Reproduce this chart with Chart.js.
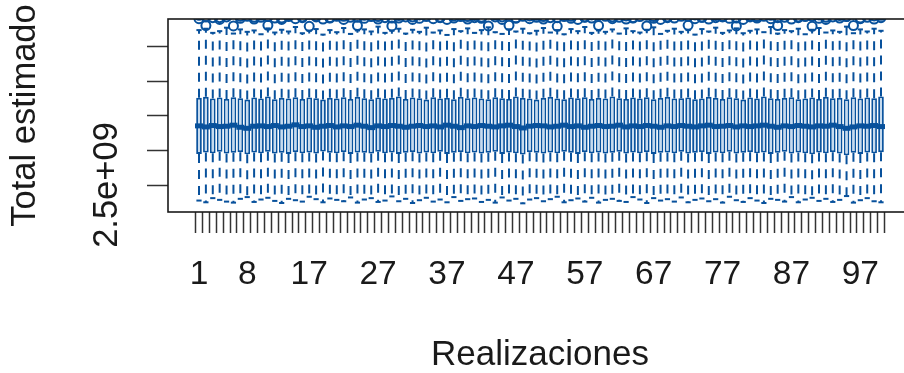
<!DOCTYPE html>
<html>
<head>
<meta charset="utf-8">
<script src="https://cdn.jsdelivr.net/npm/chart.js@4.4.1/dist/chart.umd.min.js"></script>
<style>
  html, body { margin: 0; padding: 0; background: #fff; overflow: hidden; }
  #wrap { width: 904px; height: 373px; overflow: hidden; }
</style>
</head>
<body>
<div id="wrap"><canvas id="chart" width="912" height="373"></canvas></div>
<script>
// values are in units of 1e9
var UNIT = 1e9;

// realizaciones 1..100
var realizaciones = Array.from({ length: 100 }, function (_, i) { return i + 1; });
var xTickLabels = [1, 8, 17, 27, 37, 47, 57, 67, 77, 87, 97];

var yTicks = [2.5, 2.6, 2.7, 2.8, 2.9];
var yTickText = ['2.5e+09', '', '', '', ''];

var q3 = [
  2.752, 2.755, 2.750, 2.753, 2.749, 2.754, 2.751, 2.747, 2.753, 2.750,
  2.756, 2.748, 2.752, 2.750, 2.754, 2.749, 2.753, 2.751, 2.747, 2.752,
  2.750, 2.754, 2.749, 2.755, 2.751, 2.748, 2.753, 2.750, 2.752, 2.756,
  2.749, 2.753, 2.751, 2.747, 2.754, 2.750, 2.752, 2.748, 2.755, 2.751,
  2.753, 2.750, 2.748, 2.754, 2.751, 2.749, 2.756, 2.752, 2.750, 2.747,
  2.752, 2.755, 2.750, 2.748, 2.753, 2.751, 2.754, 2.749, 2.752, 2.750,
  2.756, 2.751, 2.749, 2.753, 2.750, 2.754, 2.748, 2.752, 2.755, 2.750,
  2.751, 2.753, 2.748, 2.750, 2.755, 2.752, 2.749, 2.754, 2.751, 2.747,
  2.753, 2.750, 2.756, 2.751, 2.749, 2.752, 2.754, 2.748, 2.750, 2.753,
  2.749, 2.755, 2.751, 2.752, 2.748, 2.754, 2.750, 2.753, 2.751, 2.756
];

var median = [
  2.671, 2.668, 2.672, 2.669, 2.670, 2.673, 2.667, 2.664, 2.670, 2.671,
  2.669, 2.672, 2.668, 2.670, 2.674, 2.669, 2.671, 2.667, 2.670, 2.672,
  2.668, 2.671, 2.669, 2.673, 2.670, 2.666, 2.671, 2.669, 2.672, 2.670,
  2.667, 2.670, 2.672, 2.669, 2.671, 2.668, 2.673, 2.670, 2.666, 2.671,
  2.669, 2.672, 2.670, 2.668, 2.671, 2.673, 2.669, 2.665, 2.670, 2.672,
  2.671, 2.668, 2.670, 2.673, 2.669, 2.671, 2.667, 2.670, 2.672, 2.669,
  2.670, 2.673, 2.668, 2.671, 2.669, 2.672, 2.670, 2.667, 2.671, 2.669,
  2.672, 2.670, 2.668, 2.671, 2.673, 2.669, 2.670, 2.672, 2.668, 2.671,
  2.669, 2.671, 2.673, 2.670, 2.667, 2.671, 2.669, 2.672, 2.670, 2.668,
  2.671, 2.670, 2.673, 2.669, 2.664, 2.668, 2.671, 2.670, 2.672, 2.669
];

var q1 = [
  2.590, 2.594, 2.592, 2.596, 2.591, 2.593, 2.595, 2.589, 2.594, 2.592,
  2.596, 2.591, 2.593, 2.590, 2.595, 2.592, 2.594, 2.591, 2.597, 2.593,
  2.592, 2.595, 2.590, 2.594, 2.593, 2.591, 2.596, 2.592, 2.594, 2.590,
  2.593, 2.595, 2.591, 2.594, 2.592, 2.596, 2.590, 2.593, 2.595, 2.592,
  2.594, 2.591, 2.593, 2.596, 2.590, 2.594, 2.592, 2.588, 2.595, 2.593,
  2.591, 2.594, 2.592, 2.596, 2.593, 2.590, 2.595, 2.592, 2.594, 2.591,
  2.593, 2.596, 2.591, 2.594, 2.592, 2.595, 2.590, 2.593, 2.594, 2.592,
  2.596, 2.591, 2.593, 2.595, 2.590, 2.594, 2.592, 2.596, 2.591, 2.593,
  2.595, 2.592, 2.594, 2.590, 2.593, 2.596, 2.591, 2.594, 2.592, 2.589,
  2.594, 2.592, 2.595, 2.591, 2.586, 2.593, 2.590, 2.594, 2.592, 2.595
];

var whiskerLow = [
  2.455, 2.450, 2.462, 2.457, 2.452, 2.449, 2.460, 2.465, 2.451, 2.458,
  2.463, 2.454, 2.448, 2.460, 2.456, 2.452, 2.466, 2.459, 2.450, 2.461,
  2.457, 2.453, 2.464, 2.449, 2.458, 2.462, 2.451, 2.455, 2.467, 2.453,
  2.460, 2.448, 2.456, 2.463, 2.452, 2.458, 2.450, 2.465, 2.454, 2.459,
  2.461, 2.451, 2.457, 2.449, 2.464, 2.455, 2.460, 2.447, 2.458, 2.462,
  2.453, 2.459, 2.466, 2.450, 2.456, 2.461, 2.452, 2.463, 2.449, 2.457,
  2.460, 2.454, 2.451, 2.465, 2.458, 2.448, 2.462, 2.455, 2.459, 2.452,
  2.464, 2.450, 2.457, 2.461, 2.453, 2.459, 2.449, 2.466, 2.456, 2.451,
  2.462, 2.455, 2.448, 2.460, 2.457, 2.452, 2.465, 2.450, 2.458, 2.463,
  2.454, 2.460, 2.451, 2.457, 2.468, 2.449, 2.456, 2.462, 2.453, 2.450
];

var whiskerHigh = [
  2.948, 2.952, 2.940, 2.945, 2.955, 2.938, 2.950, 2.943, 2.947, 2.936,
  2.953, 2.941, 2.949, 2.944, 2.957, 2.939, 2.946, 2.951, 2.935, 2.948,
  2.942, 2.954, 2.937, 2.947, 2.950, 2.944, 2.958, 2.940, 2.946, 2.952,
  2.938, 2.949, 2.943, 2.955, 2.941, 2.947, 2.934, 2.951, 2.945, 2.953,
  2.940, 2.948, 2.956, 2.942, 2.937, 2.950, 2.944, 2.952, 2.939, 2.946,
  2.954, 2.941, 2.948, 2.936, 2.951, 2.945, 2.957, 2.940, 2.947, 2.943,
  2.950, 2.938, 2.953, 2.945, 2.941, 2.949, 2.956, 2.937, 2.946, 2.952,
  2.943, 2.948, 2.935, 2.951, 2.944, 2.955, 2.940, 2.947, 2.953, 2.939,
  2.946, 2.950, 2.942, 2.957, 2.938, 2.948, 2.945, 2.952, 2.936, 2.949,
  2.954, 2.941, 2.947, 2.943, 2.958, 2.939, 2.950, 2.944, 2.952, 2.946
];

// outliers above the upper whisker (most sit at or beyond the top of the plot)
var outlierA = [
  2.981, 2.961, 2.984, 2.979, 2.986, 2.960, 2.982, 2.988, 2.980, 2.985,
  2.962, 2.983, 2.979, 2.987, 2.981, 2.984, 2.959, 2.986, 2.980, 2.983,
  2.988, 2.979, 2.985, 2.961, 2.982, 2.987, 2.980, 2.984, 2.960, 2.983,
  2.986, 2.979, 2.982, 2.988, 2.981, 2.985, 2.979, 2.983, 2.987, 2.980,
  2.984, 2.982, 2.960, 2.986, 2.979, 2.962, 2.983, 2.988, 2.981, 2.985,
  2.980, 2.984, 2.959, 2.987, 2.982, 2.979, 2.986, 2.983, 2.961, 2.988,
  2.981, 2.985, 2.980, 2.984, 2.987, 2.960, 2.982, 2.979, 2.986, 2.983,
  2.988, 2.962, 2.981, 2.985, 2.980, 2.984, 2.987, 2.982, 2.960, 2.979,
  2.986, 2.983, 2.988, 2.981, 2.961, 2.985, 2.980, 2.984, 2.987, 2.959,
  2.982, 2.979, 2.986, 2.983, 2.988, 2.961, 2.981, 2.985, 2.980, 2.984
];
var outlierB = [
  2.991, 2.986, 2.997, 2.984, 2.993, 2.999, 2.988, 2.995, 2.985, 2.992,
  2.987, 2.996, 2.983, 2.990, 2.998, 2.986, 2.994, 2.989, 2.997, 2.984,
  2.993, 2.988, 2.999, 2.985, 2.991, 2.996, 2.987, 2.994, 2.983, 2.990,
  2.997, 2.986, 2.992, 2.988, 2.999, 2.984, 2.995, 2.989, 2.993, 2.987,
  2.990, 2.985, 2.998, 2.992, 2.986, 2.994, 2.983, 2.996, 2.989, 2.991,
  2.987, 2.997, 2.984, 2.993, 2.988, 2.999, 2.985, 2.992, 2.990, 2.995,
  2.986, 2.994, 2.989, 2.983, 2.997, 2.991, 2.987, 2.996, 2.984, 2.993,
  2.998, 2.988, 2.992, 2.985, 2.995, 2.990, 2.986, 2.999, 2.983, 2.994,
  2.989, 2.987, 2.996, 2.991, 2.984, 2.993, 2.998, 2.986, 2.995, 2.988,
  2.992, 2.985, 2.997, 2.990, 2.987, 2.994, 2.983, 2.996, 2.989, 2.991
];

var BLUE = '#08519c';
var FILL = '#c6dbef';
var INK = '#1a1a1a';

Chart.defaults.font.family = "'Liberation Sans', Arial, Helvetica, sans-serif";
Chart.defaults.font.size = 34;
Chart.defaults.color = INK;

// build the datasets from the arrays
var boxes = realizaciones.map(function (r, i) { return { x: r, y: [q1[i] * UNIT, q3[i] * UNIT] }; });
var whiskers = [];
var staples = [];
realizaciones.forEach(function (r, i) {
  whiskers.push({ x: r, y: q1[i] * UNIT }, { x: r, y: whiskerLow[i] * UNIT }, { x: r, y: null });
  whiskers.push({ x: r, y: q3[i] * UNIT }, { x: r, y: whiskerHigh[i] * UNIT }, { x: r, y: null });
  staples.push({ x: r, y: whiskerLow[i] * UNIT }, { x: r, y: whiskerHigh[i] * UNIT });
});
var medians = realizaciones.map(function (r, i) { return { x: r, y: median[i] * UNIT }; });
var outliers = [];
realizaciones.forEach(function (r, i) {
  outliers.push({ x: r, y: outlierA[i] * UNIT }, { x: r, y: outlierB[i] * UNIT });
});

// frame round the plot region and the (only) y tick label that R kept
var framePlugin = {
  id: 'frame',
  afterDraw: function (chart) {
    var ctx = chart.ctx;
    var a = chart.chartArea;
    ctx.save();
    ctx.strokeStyle = INK;
    ctx.lineWidth = 1.6;
    ctx.strokeRect(a.left, a.top, a.right - a.left + 20, a.bottom - a.top);

    var ys = chart.scales.y;
    ctx.fillStyle = INK;
    ctx.font = "34.5px 'Liberation Sans', Arial, sans-serif";
    ctx.textAlign = 'center';
    ctx.textBaseline = 'middle';
    yTicks.forEach(function (v, i) {
      if (!yTickText[i]) return;
      ctx.save();
      ctx.translate(ys.right - 61, ys.getPixelForValue(v * UNIT));
      ctx.rotate(-Math.PI / 2);
      ctx.fillText(yTickText[i], 0, 0);
      ctx.restore();
    });
    ctx.restore();
  }
};

new Chart(document.getElementById('chart'), {
  type: 'bar',
  data: {
    datasets: [
      {
        type: 'bar', data: boxes, order: 5,
        backgroundColor: FILL, borderColor: BLUE, borderWidth: 1.8, borderSkipped: false,
        barPercentage: 0.82, categoryPercentage: 1.0
      },
      {
        type: 'line', data: whiskers, order: 4,
        borderColor: BLUE, borderWidth: 2.0, borderDash: [9, 7], pointRadius: 0,
        spanGaps: false, fill: false, tension: 0
      },
      {
        type: 'scatter', data: staples, order: 3,
        pointStyle: 'line', pointRadius: 2.6, pointBorderWidth: 2, pointBorderColor: BLUE
      },
      {
        type: 'scatter', data: medians, order: 2,
        pointStyle: 'line', pointRadius: 4, pointBorderWidth: 5, pointBorderColor: BLUE
      },
      {
        type: 'scatter', data: outliers, order: 1, clip: 0,
        pointStyle: 'circle', pointRadius: 4.5, pointBorderWidth: 2,
        pointBorderColor: BLUE, pointBackgroundColor: 'rgba(0,0,0,0)'
      }
    ]
  },
  options: {
    responsive: false,
    animation: false,
    events: [],
    layout: { autoPadding: false, padding: { top: 19, left: 0, right: 0, bottom: 0 } },
    plugins: { legend: { display: false }, tooltip: { enabled: false } },
    scales: {
      x: {
        // R pads the 0.5..100.5 range by 4%; the plot region runs past the right edge of the image
        type: 'linear', min: -3.5, max: 104.5, offset: false,
        afterBuildTicks: function (scale) {
          scale.ticks = realizaciones.map(function (v) { return { value: v }; });
        },
        afterFit: function (scale) { scale.height = 161; },
        border: { display: false },
        grid: { drawOnChartArea: false, drawTicks: true, tickLength: 21, tickWidth: 1.5, tickColor: '#333' },
        ticks: {
          autoSkip: false, maxRotation: 0, minRotation: 0, padding: 22,
          font: { size: 33.5 },
          callback: function (v) { return xTickLabels.indexOf(v) >= 0 ? String(v) : ''; }
        },
        title: { display: true, text: 'Realizaciones', font: { size: 35 }, padding: { top: 0, bottom: -3.5 } }
      },
      y: {
        type: 'linear', min: 2.42191 * UNIT, max: 2.98012 * UNIT,
        afterBuildTicks: function (scale) {
          scale.ticks = yTicks.map(function (v) { return { value: v * UNIT }; });
        },
        afterFit: function (scale) { scale.width = 168; },
        border: { display: false },
        grid: { drawOnChartArea: false, drawTicks: true, tickLength: 21, tickWidth: 1.5, tickColor: '#333' },
        ticks: { display: false },
        title: { display: true, text: 'Total estimado', font: { size: 34.5 }, padding: { top: 5, bottom: 0 } }
      }
    }
  },
  plugins: [framePlugin]
});
</script>
</body>
</html>
